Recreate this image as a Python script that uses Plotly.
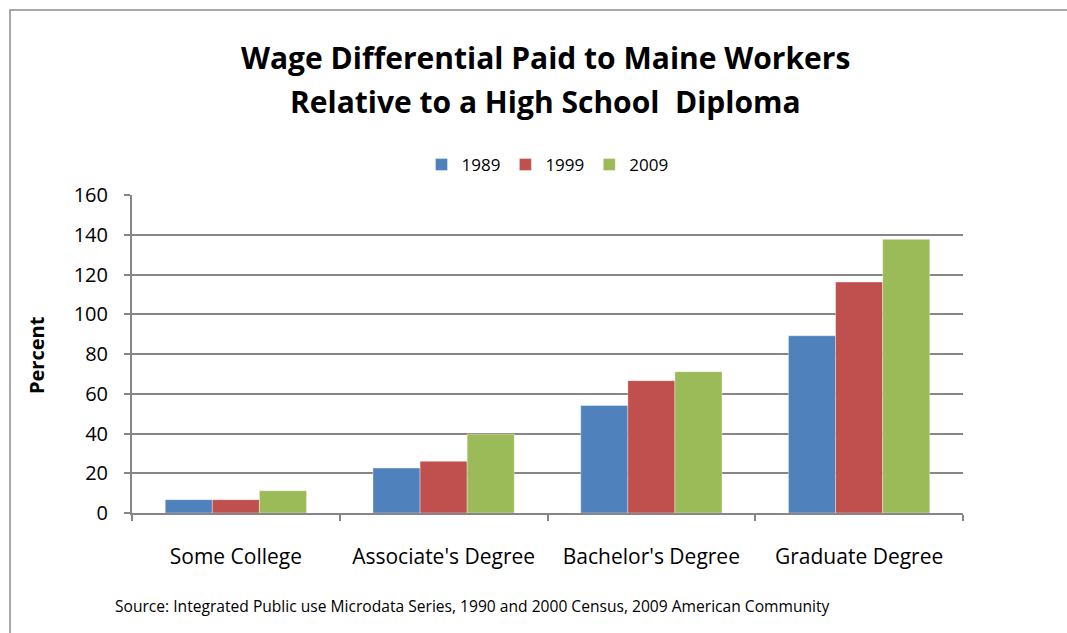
import plotly.graph_objects as go

categories = ["Some College", "Associate's Degree", "Bachelor's Degree", "Graduate Degree"]
series_names = ["1989", "1999", "2009"]
values_1989 = [6.7, 22.6, 54.1, 89.2]
values_1999 = [6.7, 26.0, 66.6, 116.2]
values_2009 = [11.2, 39.7, 71.1, 137.7]
y_ticks = [0, 20, 40, 60, 80, 100, 120, 140, 160]
colors = ["#4F81BD", "#C0504D", "#9BBB59"]

title_line1 = "Wage Differential Paid to Maine Workers"
title_line2 = "Relative to a High School  Diploma"
source_text = "Source: Integrated Public use Microdata Series, 1990 and 2000 Census, 2009 American Community"

FONT = "Open Sans"
GRID = "#868686"

fig = go.Figure()
for name, vals, col in zip(series_names, [values_1989, values_1999, values_2009], colors):
    fig.add_trace(go.Bar(
        x=categories, y=vals, name=name,
        marker=dict(color=col, line=dict(color="rgba(255,255,255,0.6)", width=0.6)),
    ))

W, H = 1067, 633
L, R, T, B = 132, 104, 195, 120
pw, ph = W - L - R, H - T - B

def px_x(x):
    return (x - L) / pw

def px_y(y):
    return (H - B - y) / ph

fig.update_layout(
    width=W, height=H,
    margin=dict(l=L, r=R, t=T, b=B),
    paper_bgcolor="white", plot_bgcolor="white",
    barmode="group", bargap=0.32, bargroupgap=0,
    font=dict(family=FONT, color="#000000"),
    showlegend=True,
    legend=dict(orientation="h", x=0.5, xanchor="center", y=px_y(165), yanchor="middle",
                font=dict(size=17, family=FONT), traceorder="normal",
                itemwidth=30, tracegroupgap=0),
    xaxis=dict(
        type="category", showgrid=False, showline=True, linecolor=GRID, linewidth=2,
        ticks="outside", tickson="boundaries", ticklen=6, tickcolor=GRID, tickwidth=2,
        tickfont=dict(size=21, family=FONT, color="#000"), ticklabelstandoff=24,
    ),
    yaxis=dict(
        range=[0, 160], tickvals=y_ticks, ticktext=[str(v) for v in y_ticks],
        showgrid=True, gridcolor=GRID, gridwidth=1.6,
        showline=True, linecolor=GRID, linewidth=2,
        ticks="outside", ticklen=6, tickcolor=GRID, tickwidth=2,
        tickfont=dict(size=20, family=FONT, color="#000"), ticklabelstandoff=12,
        zeroline=False,
    ),
    annotations=[
        dict(text="<b>" + title_line1 + "</b>", x=px_x(545), y=px_y(57), xref="paper", yref="paper",
             xanchor="center", yanchor="middle", showarrow=False, font=dict(size=30, family=FONT)),
        dict(text="<b>" + title_line2 + "</b>", x=px_x(545), y=px_y(101), xref="paper", yref="paper",
             xanchor="center", yanchor="middle", showarrow=False, font=dict(size=30, family=FONT)),
        dict(text="<b>Percent</b>", x=px_x(36), y=px_y(355), xref="paper", yref="paper",
             xanchor="center", yanchor="middle", textangle=-90, showarrow=False,
             font=dict(size=20, family=FONT)),
        dict(text=source_text, x=px_x(113), y=px_y(606), xref="paper", yref="paper",
             xanchor="left", yanchor="middle", showarrow=False, font=dict(size=15.6, family=FONT)),
    ],
    shapes=[
        dict(type="rect", xref="paper", yref="paper", x0=px_x(10), y0=px_y(660), x1=px_x(1090), y1=px_y(10),
             line=dict(color="#8c8c8c", width=1.5), fillcolor="rgba(0,0,0,0)", layer="below"),
    ],
)

fig.write_html("out.html")
